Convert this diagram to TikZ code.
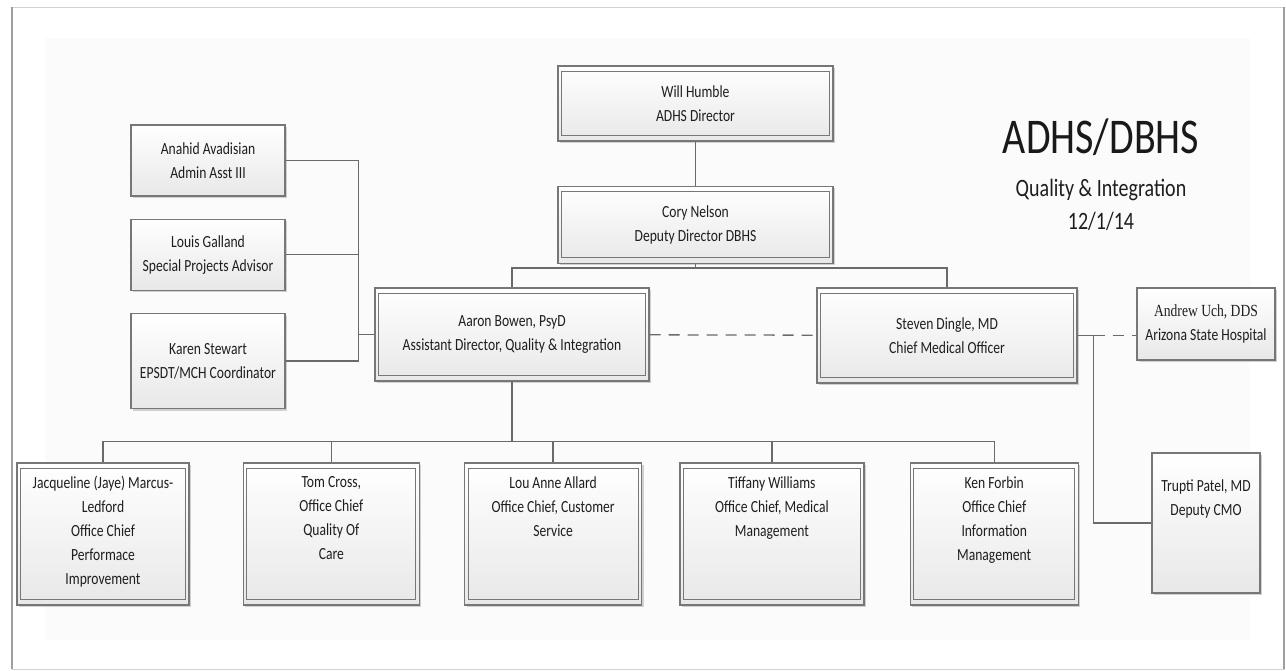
\documentclass[tikz,border=0pt]{standalone}
\usepackage{fontspec}
\usepackage{xcolor}
\usepackage{tikz}
\usetikzlibrary{positioning}
\usetikzlibrary{shadows}
\usetikzlibrary{calc}

\newfontfamily\boxfont[FakeStretch=0.8]{Carlito}
\newfontfamily\serifbox[FakeStretch=0.8]{Liberation Serif}
\newcommand{\boxtext}{\boxfont\fontsize{17}{24}\selectfont}
\newcommand{\titletext}{\boxfont\fontsize{50}{50}\selectfont}
\newcommand{\subtext}{\boxfont\fontsize{25}{30}\selectfont}

\definecolor{boxline}{HTML}{777777}
\definecolor{boxfill}{HTML}{E8E8E8}
\definecolor{wirecol}{HTML}{6A6A6A}
\definecolor{txt}{HTML}{1E1E1E}

\tikzset{
  person/.style={draw=boxline, line width=1.3pt, top color=white, bottom color=boxfill,
    drop shadow={opacity=0.35, shadow xshift=2pt, shadow yshift=-2pt},
    path picture={\draw[boxline, line width=1.1pt]
      ([shift={(3.5pt,-5.5pt)}]path picture bounding box.north west) rectangle
      ([shift={(-3.5pt,5.5pt)}]path picture bounding box.south east);},
    align=center, font=\boxtext, text=txt, inner sep=2pt},
  staff/.style={draw=boxline, line width=1.3pt, top color=white, bottom color=boxfill,
    drop shadow={opacity=0.35, shadow xshift=2pt, shadow yshift=-2pt},
    align=center, font=\boxtext, text=txt, inner sep=2pt},
  lowbox/.style={person, minimum height=142pt},
  lowtext/.style={anchor=north, align=center, font=\boxtext, text=txt, inner sep=0pt, yshift=-14pt},
  wire/.style={draw=wirecol, line width=1.3pt},
  dashline/.style={dash pattern=on 11pt off 8pt}
}

\begin{document}
\begin{tikzpicture}[x=1pt, y=-1pt]
\useasboundingbox (0,0) rectangle (1286,671);

%page frame
\draw[gray!35, fill=white] (12,7) rectangle (1284,669);
\fill[gray!3] (45,38) rectangle (1250,640);
\draw[gray!75, line width=1.5pt] (12,7) -- (12,669);
\draw[gray!75, line width=1.5pt] (1284,7) -- (1284,669);

%directors
\node[person, minimum width=275pt, minimum height=75pt] (will) at (695.5,103.5) {Will Humble\\ADHS Director};
\node[person, minimum width=275pt, minimum height=77pt, below=44pt of will] (cory) {Cory Nelson\\Deputy Director DBHS};
\node[person, minimum width=274pt, minimum height=93pt] (aaron) at (512,334.5) {Aaron Bowen, PsyD\\Assistant Director, Quality \& Integration};
\node[person, minimum width=260pt, minimum height=95pt] (steven) at (947,335.5) {Steven Dingle, MD\\Chief Medical Officer};
\node[staff, minimum width=138pt, minimum height=72pt] (andrew) at (1206,324) {{\serifbox Andrew Uch, DDS}\\Arizona State Hospital};
\node[staff, minimum width=108pt, minimum height=140pt,
  label={[lowtext, yshift=-13pt]north:Trupti Patel, MD\\Deputy CMO}] (trupti) at (1206,523) {};

%left column
\node[staff, minimum width=154pt, minimum height=71pt] (anahid) at (208,160.5) {Anahid Avadisian\\Admin Asst III};
\node[staff, minimum width=154pt, minimum height=71pt, below=22pt of anahid] (louis) {Louis Galland\\Special Projects Advisor};
\node[staff, minimum width=154pt, minimum height=95pt, below=22pt of louis] (karen) {Karen Stewart\\EPSDT/MCH Coordinator};

%office chiefs
\node[lowbox, minimum width=172pt,
  label={[lowtext]north:Jacqueline (Jaye) Marcus-\\Ledford\\Office Chief\\Performace\\Improvement}] (jaq) at (103,534) {};
\node[lowbox, minimum width=176pt, right=53pt of jaq,
  label={[lowtext]north:Tom Cross,\\Office Chief\\Quality Of\\Care}] (tom) {};
\node[lowbox, minimum width=177pt, right=44pt of tom,
  label={[lowtext]north:Lou Anne Allard\\Office Chief, Customer\\Service}] (lou) {};
\node[lowbox, minimum width=184pt, right=37pt of lou,
  label={[lowtext]north:Tiffany Williams\\Office Chief, Medical\\Management}] (tif) {};
\node[lowbox, minimum width=168pt, right=45pt of tif,
  label={[lowtext]north:Ken Forbin\\Office Chief\\Information\\Management}] (ken) {};

%heading
\node[font=\titletext, text=black!90] (title) at (1101,137) {ADHS/DBHS};
\node[font=\subtext, text=txt] (subtitle) at (1101,190) {Quality \& Integration};
\node[font=\subtext, text=txt, below=4pt of subtitle] (date) {12/1/14};

%connectors
\draw[wire] (will) -- (cory);
\coordinate (topbus) at ([yshift=-4pt]cory.south);
\draw[wire] (cory) -- (topbus);
\draw[wire] (aaron.north) |- (topbus) -| (steven.north);
\draw[wire, dashline] (aaron) -- (steven);

\coordinate (leftbus) at ([xshift=-16pt]aaron.west);
\foreach \n in {anahid,louis,karen}
  \draw[wire] (\n.east) -| (leftbus);
\draw[wire] (leftbus) -- (aaron.west);

\coordinate (cmojoint) at ([xshift=16pt]steven.east);
\draw[wire] (steven.east) -- (cmojoint);
\draw[wire, dashline] (cmojoint) -- (cmojoint -| andrew.west);
\draw[wire] (cmojoint) |- (trupti.west);

\coordinate (lowbus) at ([yshift=-60pt]aaron.south);
\draw[wire] (aaron) -- (lowbus);
\draw[wire] (jaq.north) |- (lowbus) -| (ken.north);
\foreach \n in {tom,lou,tif}
  \draw[wire] (\n.north) -- (\n.north |- lowbus);
\end{tikzpicture}
\end{document}
